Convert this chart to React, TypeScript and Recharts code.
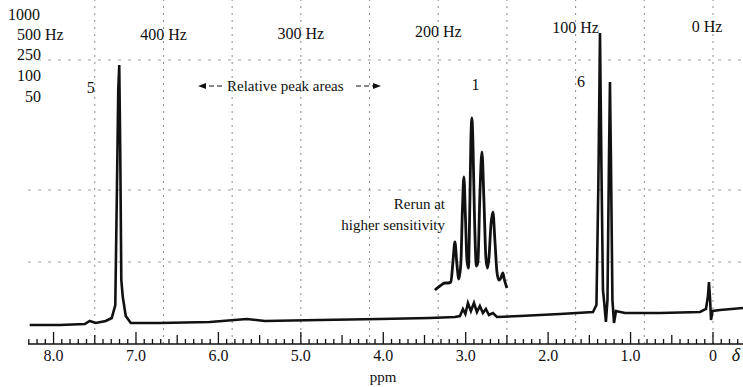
import { LineChart, Line, XAxis, YAxis, ReferenceLine } from "recharts";

// main trace, [ppm, intensity]
const SPECTRUM_PPM = [
  8.289, 7.925, 7.621, 7.561, 7.488, 7.367, 7.294, 7.251, 7.233, 7.215, 7.203, 7.191, 7.178, 7.16, 7.124,
  7.063, 6.711, 6.104, 5.655, 5.437, 4.769, 4.041, 3.434, 3.131, 3.07, 3.034, 3.004, 2.973, 2.937, 2.9,
  2.864, 2.828, 2.791, 2.755, 2.718, 2.67, 2.621, 2.342, 1.857, 1.456, 1.414, 1.39, 1.371, 1.353, 1.335,
  1.317, 1.299, 1.28, 1.262, 1.25, 1.238, 1.22, 1.201, 1.177, 1.068, 0.643, 0.158, 0.085, 0.061, 0.049,
  0.036, 0.024, 0.006, -0.085, -0.364,
];
const SPECTRUM_VAL = [
  19, 19, 20, 23, 21, 23, 26, 39, 144, 254, 279, 194, 64, 47, 28,
  21, 21, 22, 25, 23, 24, 25, 26, 27, 28, 35, 30, 41, 33, 41,
  32, 38, 31, 35, 29, 31, 27, 28, 30, 32, 39, 164, 311, 174, 54,
  39, 22, 44, 184, 262, 184, 44, 21, 33, 31, 31, 32, 35, 48, 62,
  46, 24, 33, 34, 36,
];

// quartet rerun at higher sensitivity (offset trace)
const RERUN_PPM = [
  3.374, 3.313, 3.252, 3.216, 3.18, 3.155, 3.131, 3.107, 3.083, 3.058, 3.04, 3.022, 3.004, 2.985,
  2.967, 2.949, 2.937, 2.925, 2.913, 2.894, 2.87, 2.852, 2.828, 2.803, 2.779, 2.755, 2.737, 2.718,
  2.694, 2.67, 2.646, 2.621, 2.597, 2.573, 2.549, 2.53, 2.5,
];
const RERUN_VAL = [
  54, 58, 61, 61, 62, 82, 102, 80, 65, 82, 134, 167, 129, 84,
  76, 144, 204, 226, 204, 129, 78, 82, 149, 192, 144, 86, 76, 86,
  119, 132, 104, 72, 64, 66, 71, 64, 56,
];

const PPM_LABELS = [8, 7, 6, 5, 4, 3, 2, 1, 0];
const HZ_LABELS = [400, 300, 200, 100, 0];
const GRID_HZ = [0, 50, 100, 150, 200, 250, 300, 350, 400, 450, 500];
const GRID_LEVELS = [284, 154, 82];
const SWEEP_LABELS = ["1000", "500 Hz", "250", "100", "50"];
const AREA_LABELS = [
  { ppm: 7.55, text: "5" },
  { ppm: 2.88, text: "1" },
  { ppm: 1.6, text: "6" },
];

const MHZ = 60;
const X_MIN = -0.364;
const X_MAX = 8.31;

const spectrum = SPECTRUM_PPM.map((p, i) => ({ ppm: p, v: SPECTRUM_VAL[i] }));
const rerun = RERUN_PPM.map((p, i) => ({ ppm: p, v: RERUN_VAL[i] }));

const rulerTicks: number[] = [];
for (let k = -3; k <= 83; k++) rulerTicks.push(k / 10);

const FONT = "'Liberation Serif', 'DejaVu Serif', serif";

const RulerTick = (props: any) => {
  const { x, y, payload } = props;
  const v = Math.round(payload.value * 10) / 10;
  const major = Math.abs(v - Math.round(v)) < 1e-6;
  const half = Math.abs(v * 2 - Math.round(v * 2)) < 1e-6;
  const h = major ? 12 : half ? 9 : 5;
  return (
    <g>
      <line x1={x} x2={x} y1={y} y2={y - h} stroke="#111" strokeWidth={1.3} />
      {major && PPM_LABELS.includes(v) && (
        <text x={x} y={y + 17} textAnchor="middle" fontSize={16} fontFamily={FONT} fill="#111">
          {v === 0 ? "0" : v.toFixed(1)}
        </text>
      )}
    </g>
  );
};

// pixel position of a ppm value, matching the chart's x scale (plot 28..743)
const px = (ppm: number) => 28 + ((X_MAX - ppm) / (X_MAX - X_MIN)) * 715;

export default function App() {
  const txt = { fontFamily: FONT, fontSize: 16, fill: "#111" } as const;
  return (
    <div style={{ position: "relative", width: 743, height: 387, background: "#fff" }}>
      <style>{"body{margin:0}"}</style>
      <LineChart width={743} height={387} margin={{ top: 0, right: 0, left: 28, bottom: 0 }}>
        <XAxis
          dataKey="ppm"
          type="number"
          domain={[X_MIN, X_MAX]}
          reversed
          allowDataOverflow
          ticks={rulerTicks}
          interval={0}
          tick={<RulerTick />}
          tickLine={false}
          tickSize={0}
          tickMargin={0}
          height={43}
          axisLine={{ stroke: "#111", strokeWidth: 1.5 }}
        />
        <YAxis hide type="number" domain={[0, 344]} allowDataOverflow />
        {GRID_HZ.map((hz) => (
          <ReferenceLine key={hz} x={hz / MHZ} stroke="#8a8a8a" strokeDasharray="2 5" />
        ))}
        {GRID_LEVELS.map((g) => (
          <ReferenceLine key={g} y={g} stroke="#a0a0a0" strokeDasharray="3 7" />
        ))}
        <Line
          data={spectrum}
          dataKey="v"
          type="linear"
          stroke="#111"
          strokeWidth={2.6}
          dot={false}
          isAnimationActive={false}
        />
        <Line
          data={rerun}
          dataKey="v"
          type="monotone"
          stroke="#111"
          strokeWidth={2.8}
          dot={false}
          isAnimationActive={false}
        />
      </LineChart>
      <svg
        width={743}
        height={387}
        style={{ position: "absolute", left: 0, top: 0, pointerEvents: "none" }}
      >
        <defs>
          <marker id="ah" markerWidth="8" markerHeight="6" refX="7" refY="3" orient="auto">
            <path d="M0,0 L8,3 L0,6 z" fill="#111" />
          </marker>
        </defs>
        {SWEEP_LABELS.map((s, i) => (
          <text key={s} x={[8, 17, 17, 17, 25][i]} y={[20, 40, 60, 81, 102][i]} {...txt}>
            {s}
          </text>
        ))}
        {HZ_LABELS.map((hz, i) => (
          <text
            key={hz}
            x={px(hz / MHZ) - (hz === 0 ? 6 : 0)}
            y={[40, 39, 37, 33, 32][i]}
            textAnchor="middle"
            {...txt}
          >
            {hz} Hz
          </text>
        ))}
        {AREA_LABELS.map((a, i) => (
          <text key={a.text} x={px(a.ppm)} y={[93, 90, 87][i]} textAnchor="middle" {...txt}>
            {a.text}
          </text>
        ))}
        <line x1={222} y1={86} x2={199} y2={86} stroke="#111" strokeWidth={1} strokeDasharray="5 3" markerEnd="url(#ah)" />
        <text x={227} y={91} {...txt} fontSize={15}>
          Relative peak areas
        </text>
        <line x1={356} y1={86} x2={380} y2={86} stroke="#111" strokeWidth={1} strokeDasharray="5 3" markerEnd="url(#ah)" />
        <text x={445} y={209} textAnchor="end" {...txt} fontSize={15}>
          Rerun at
        </text>
        <text x={445} y={230} textAnchor="end" {...txt} fontSize={15}>
          higher sensitivity
        </text>
        <text x={383} y={382} textAnchor="middle" {...txt} fontSize={15}>
          ppm
        </text>
        <text x={736} y={361} textAnchor="middle" {...txt} fontStyle="italic" fontSize={18}>
          δ
        </text>
      </svg>
    </div>
  );
}
